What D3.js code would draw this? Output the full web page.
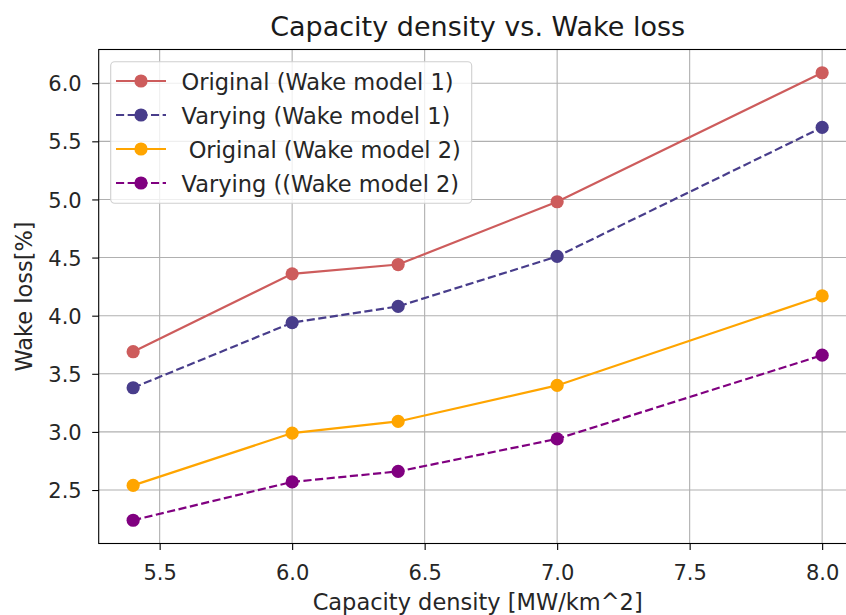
<!DOCTYPE html>
<html>
<head>
<meta charset="utf-8">
<script src="https://cdn.jsdelivr.net/npm/d3@7"></script>
<style>
  html, body { margin: 0; padding: 0; background: #fff; }
  svg { display: block; font-family: "DejaVu Sans", sans-serif; }
</style>
</head>
<body>
<svg id="chart" width="846" height="615"></svg>
<script>
// Capacity density values (MW/km^2)
const capacity = [5.4, 6.0, 6.4, 7.0, 8.0];

// Wake loss (%) for each configuration
const originalModel1 = [3.69, 4.36, 4.44, 4.98, 6.09];
const varyingModel1  = [3.38, 3.94, 4.08, 4.51, 5.62];
const originalModel2 = [2.54, 2.99, 3.09, 3.40, 4.17];
const varyingModel2  = [2.24, 2.57, 2.66, 2.94, 3.66];

const seriesNames = [
  "Original (Wake model 1)",
  "Varying (Wake model 1)",
  " Original (Wake model 2)",
  "Varying ((Wake model 2)"
];

const xTicks = [5.5, 6.0, 6.5, 7.0, 7.5, 8.0];
const yTicks = [2.5, 3.0, 3.5, 4.0, 4.5, 5.0, 5.5, 6.0];

const series = [
  { name: seriesNames[0], values: originalModel1, color: "#cd5c5c", dashed: false },
  { name: seriesNames[1], values: varyingModel1,  color: "#483d8b", dashed: true },
  { name: seriesNames[2], values: originalModel2, color: "#ffa500", dashed: false },
  { name: seriesNames[3], values: varyingModel2,  color: "#800080", dashed: true }
];

const svg = d3.select("#chart");
const plot = { left: 98.7, right: 856.6, top: 49.5, bottom: 543.5 };

const x = d3.scaleLinear().domain([5.27, 8.13]).range([plot.left, plot.right]);
const y = d3.scaleLinear().domain([2.04, 6.29]).range([plot.bottom, plot.top]);

const lw = 2.2;
const dash = [3.7 * lw, 1.6 * lw].join(",");
const tickFont = 21;
const labelFont = 22.5;
const textColor = "#262626";

// grid
const grid = svg.append("g");
grid.selectAll("line.gx").data(xTicks).join("line")
  .attr("x1", d => x(d)).attr("x2", d => x(d))
  .attr("y1", plot.top).attr("y2", plot.bottom)
  .attr("stroke", "#b0b0b0").attr("stroke-width", 1.1);
grid.selectAll("line.gy").data(yTicks).join("line")
  .attr("x1", plot.left).attr("x2", plot.right)
  .attr("y1", d => y(d)).attr("y2", d => y(d))
  .attr("stroke", "#b0b0b0").attr("stroke-width", 1.1);

// axes
const xAxis = d3.axisBottom(x).tickValues(xTicks).tickFormat(d3.format(".1f"))
  .tickSizeInner(6.5).tickSizeOuter(0);
const yAxis = d3.axisLeft(y).tickValues(yTicks).tickFormat(d3.format(".1f"))
  .tickSizeInner(6.5).tickSizeOuter(0);

const gx = svg.append("g").attr("transform", `translate(0,${plot.bottom})`).call(xAxis);
const gy = svg.append("g").attr("transform", `translate(${plot.left},0)`).call(yAxis);
[gx, gy].forEach(g => {
  g.select(".domain").remove();
  g.selectAll(".tick line").attr("stroke", "#000").attr("stroke-width", 1.1);
  g.selectAll(".tick text").attr("fill", textColor)
    .style("font-family", "DejaVu Sans").style("font-size", tickFont + "px");
});
gx.selectAll(".tick text").attr("y", 36.5).attr("dy", null);
gy.selectAll(".tick text").attr("x", -17).attr("dy", "0.36em");

// frame
svg.append("rect")
  .attr("x", plot.left).attr("y", plot.top)
  .attr("width", plot.right - plot.left).attr("height", plot.bottom - plot.top)
  .attr("fill", "none").attr("stroke", "#000").attr("stroke-width", 1.1);

// lines and markers
const line = d3.line().x((d, i) => x(capacity[i])).y(d => y(d));
const marks = svg.append("g");
series.forEach(s => {
  marks.append("path").datum(s.values)
    .attr("d", line)
    .attr("fill", "none")
    .attr("stroke", s.color)
    .attr("stroke-width", lw)
    .attr("stroke-dasharray", s.dashed ? dash : null);
  marks.selectAll(null).data(s.values).join("circle")
    .attr("cx", (d, i) => x(capacity[i]))
    .attr("cy", d => y(d))
    .attr("r", 6.6)
    .attr("fill", s.color);
});

// title and axis labels
svg.append("text").attr("x", (plot.left + plot.right) / 2).attr("y", 36)
  .attr("text-anchor", "middle").attr("fill", "#1a1a1a")
  .style("font-size", "27px").text("Capacity density vs. Wake loss");
svg.append("text").attr("x", (plot.left + plot.right) / 2).attr("y", 610)
  .attr("text-anchor", "middle").attr("fill", textColor)
  .style("font-size", labelFont + "px").text("Capacity density [MW/km^2]");
svg.append("text")
  .attr("transform", `translate(32,${(plot.top + plot.bottom) / 2}) rotate(-90)`)
  .attr("text-anchor", "middle").attr("fill", textColor)
  .style("font-size", labelFont + "px").text("Wake loss[%]");

// legend
const lg = svg.append("g");
lg.append("rect")
  .attr("x", 110.7).attr("y", 61.7).attr("width", 361).attr("height", 141.6)
  .attr("rx", 4).attr("fill", "#fff").attr("fill-opacity", 0.8)
  .attr("stroke", "#d0d0d0").attr("stroke-width", 1.1);
const rowY = [81, 115, 149, 183];
series.forEach((s, i) => {
  const yy = rowY[i];
  lg.append("line").attr("x1", 116).attr("x2", 166).attr("y1", yy).attr("y2", yy)
    .attr("stroke", s.color).attr("stroke-width", lw)
    .attr("stroke-dasharray", s.dashed ? dash : null);
  lg.append("circle").attr("cx", 141).attr("cy", yy).attr("r", 6.6).attr("fill", s.color);
  lg.append("text").attr("x", 181.5).attr("y", yy + 8.5)
    .attr("fill", textColor).style("font-size", labelFont + "px")
    .style("white-space", "pre").attr("xml:space", "preserve")
    .text(s.name);
});
</script>
</body>
</html>
